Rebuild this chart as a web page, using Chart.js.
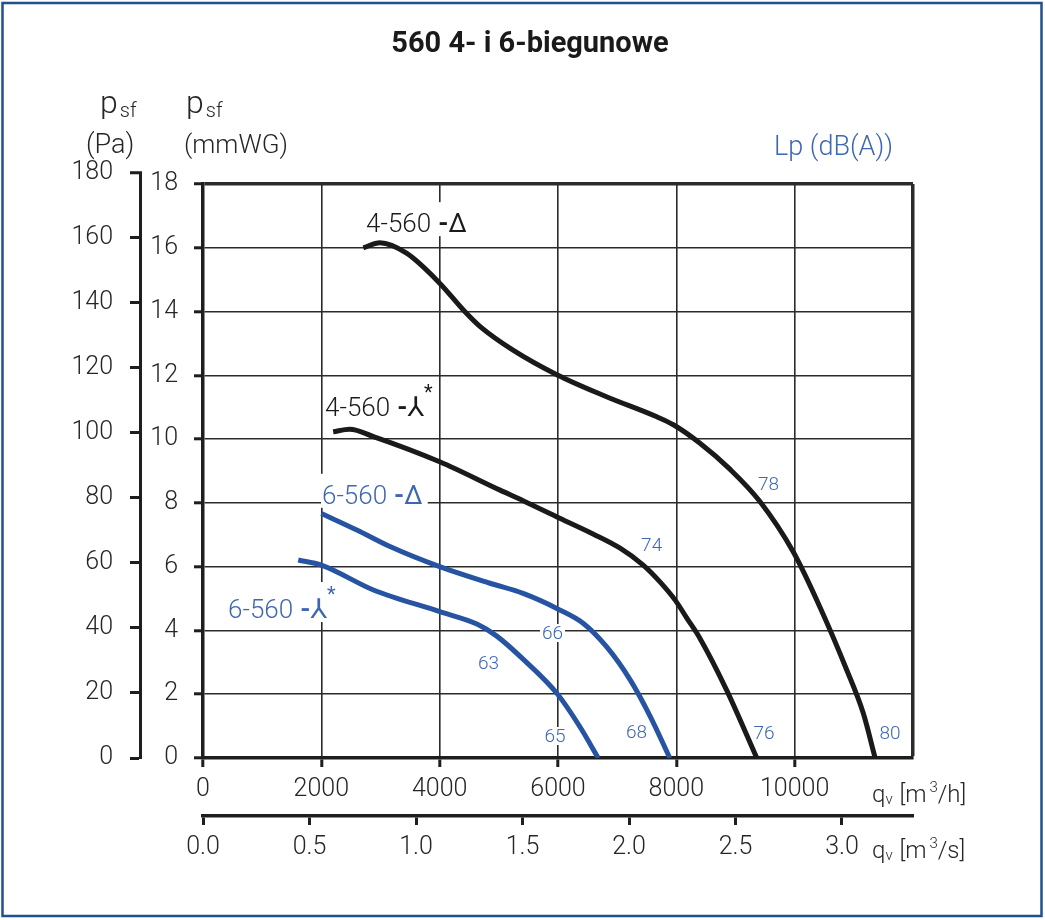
<!DOCTYPE html>
<html>
<head>
<meta charset="utf-8">
<script src="https://cdn.jsdelivr.net/npm/chart.js@4.4.1/dist/chart.umd.min.js"></script>
<style>
  html, body { margin: 0; padding: 0; background: #ffffff; }
  #wrap { width: 1045px; height: 920px; position: relative; }
  canvas { display: block; }
</style>
</head>
<body>
<div id="wrap"><canvas id="chart" width="1045" height="920"></canvas></div>
<script>
// ---------------- DATA ----------------
const chartTitle = '560 4- i 6-biegunowe';
const seriesNames = ['4-560 -Δ', '4-560 -⅄*', '6-560 -Δ', '6-560 -⅄*'];

// flow q [m3/h] and static pressure p [mmWG]
const q4Delta = [2710, 2990, 3440, 4000, 4400, 4690, 5240, 5980, 6820, 7670, 7950, 8400, 8910, 9410, 9980, 10430, 10880, 11160, 11360];
const p4Delta = [16.00, 16.16, 15.83, 14.89, 14.05, 13.52, 12.79, 12.02, 11.33, 10.70, 10.45, 9.87, 9.05, 8.05, 6.45, 4.72, 2.76, 1.40, 0];

const q4Star = [2200, 2480, 2880, 4000, 5020, 5410, 6030, 6600, 7050, 7440, 7720, 7980, 8180, 8400, 8850, 9360];
const p4Star = [10.23, 10.31, 10.08, 9.29, 8.40, 8.07, 7.52, 7.02, 6.58, 6.05, 5.53, 4.95, 4.38, 3.75, 2.13, 0];

const q6Delta = [2000, 2600, 3160, 4000, 4850, 5410, 5980, 6430, 6820, 7220, 7560, 7890];
const p6Delta = [7.67, 7.15, 6.63, 6.00, 5.48, 5.16, 4.69, 4.22, 3.49, 2.45, 1.30, 0];

const q6Star = [1610, 2000, 2880, 4000, 4630, 4960, 5410, 5980, 6370, 6680];
const p6Star = [6.21, 6.05, 5.27, 4.59, 4.20, 3.83, 3.10, 2.03, 0.98, 0];

// sound pressure level labels Lp dB(A) and where they sit (q, p)
const dbValues = ['78', '74', '66', '63', '65', '68', '76', '80'];
const dbQ = [9557, 7583, 5907, 4825, 5949, 7327, 9481, 11611];
const dbP = [8.58, 6.66, 3.92, 2.98, 0.69, 0.82, 0.77, 0.77];

// axes
const qMax = 12000;            // m3/h
const qStep = 2000;
const pMax = 18;               // mmWG
const pStep = 2;
const paStep = 20;             // Pa
const paTop = 180;
const PA_PER_MMWG = 9.80665;
const secondsPerHour = 3600;
const qsStep = 0.5;            // m3/s

// ---------------- STYLE ----------------
const FONT = 'Roboto, "DejaVu Sans", sans-serif';
const BLACK = '#1a1a1a';
const BLUE = '#2654a2';
const BLUE_TXT = '#3d67b2';
const GRID = '#2b2b2b';
const AXIS = '#1e1e1e';
const TXT = '#262626';
const FRAME = '#1f4f8d';
const TICK_FONT = { family: FONT, size: 25, weight: '300' };

// series name label anchors (left edge, baseline) in data coords
const nameAnchors = [
  { q: 2755, p: 16.49, color: BLACK, star: false },
  { q: 2062, p: 10.72, color: BLACK, star: true },
  { q: 2011, p: 7.97, color: BLUE_TXT, star: false },
  { q: 423,  p: 4.39, color: BLUE_TXT, star: true }
];

function pts(qs, ps) { return qs.map((q, i) => ({ x: q, y: ps[i] })); }

function alignPx(px, w) { const h = w / 2; return Math.round(px - h) + h; }

function drawParts(ctx, x, y, parts, color) {
  ctx.fillStyle = color;
  ctx.textAlign = 'left';
  ctx.textBaseline = 'alphabetic';
  let cx = x;
  for (const pt of parts) {
    ctx.font = (pt.weight || '300') + ' ' + pt.size + 'px ' + (pt.family || FONT);
    cx += pt.dx || 0;
    ctx.fillText(pt.t, cx, y + (pt.dy || 0));
    cx += ctx.measureText(pt.t).width;
  }
  return cx;
}

function measureParts(ctx, parts) {
  let w = 0;
  for (const pt of parts) {
    ctx.font = (pt.weight || '300') + ' ' + pt.size + 'px ' + (pt.family || FONT);
    w += (pt.dx || 0) + ctx.measureText(pt.t).width;
  }
  return w;
}

function nameParts(name) {
  const m = name.match(/^(\S+) -(.)(\*?)$/);
  const isDelta = m[2] === 'Δ';
  const parts = [
    { t: m[1], size: 26, weight: '300' },
    { t: '-', size: 26, weight: '700', dx: 7 },
    { t: m[2], size: isDelta ? 26 : 27, weight: '400', family: isDelta ? FONT : '"DejaVu Sans", sans-serif' }
  ];
  if (m[3]) parts.push({ t: '*', size: 20, weight: '400', dy: -17, dx: 0 });
  return parts;
}

// plugin: labels with white backing, under the curves
const labelPlugin = {
  id: 'curveLabels',
  beforeDatasetsDraw(chart) {
    const ctx = chart.ctx, xs = chart.scales.x, ys = chart.scales.y;
    ctx.save();
    seriesNames.forEach((name, i) => {
      const a = nameAnchors[i];
      const x = xs.getPixelForValue(a.q), y = ys.getPixelForValue(a.p);
      const parts = nameParts(name);
      const w = measureParts(ctx, parts);
      ctx.fillStyle = '#ffffff';
      const top = a.star ? y - 36 : y - 30;
      ctx.fillRect(x - 1, top, w + 6, y + 4 - top);
      drawParts(ctx, x, y, parts, a.color);
    });
    ctx.font = '300 19px ' + FONT;
    dbValues.forEach((t, i) => {
      const x = xs.getPixelForValue(dbQ[i]), y = ys.getPixelForValue(dbP[i]);
      const w = ctx.measureText(t).width;
      ctx.fillStyle = '#ffffff';
      ctx.fillRect(x - w / 2 - 2, y - 9, w + 4, 18);
      ctx.fillStyle = BLUE_TXT;
      ctx.textAlign = 'center';
      ctx.textBaseline = 'middle';
      ctx.fillText(t, x, y + 1);
    });
    ctx.restore();
  }
};

// plugin: frame, title, axis titles, Pa axis extension
const decorPlugin = {
  id: 'decor',
  afterDraw(chart) {
    const ctx = chart.ctx, ca = chart.chartArea;
    ctx.save();
    // frame
    ctx.strokeStyle = FRAME;
    ctx.lineWidth = 2.5;
    ctx.strokeRect(2.5, 3, 1039, 913);
    // title
    ctx.fillStyle = '#1a1a1a';
    ctx.font = 'bold 29px ' + FONT;
    ctx.textAlign = 'center';
    ctx.textBaseline = 'middle';
    ctx.fillText(chartTitle, 530, 45);
    // Pa axis extension up to 180
    const pa = chart.scales.yPa;
    const yTop = pa.getPixelForValue(paTop);
    const bx = alignPx(pa.right, 3);
    ctx.strokeStyle = AXIS;
    ctx.lineWidth = 3;
    ctx.beginPath();
    ctx.moveTo(bx, ca.top + 2);
    ctx.lineTo(bx, yTop - 1.5);
    ctx.moveTo(pa.right - 10, yTop);
    ctx.lineTo(bx + 1.5, yTop);
    ctx.stroke();
    ctx.fillStyle = TXT;
    ctx.font = '300 25px ' + FONT;
    ctx.textAlign = 'right';
    ctx.textBaseline = 'middle';
    ctx.fillText(String(paTop), pa.right - 10 - 17, yTop);
    // axis titles
    drawParts(ctx, 100, 113, [{ t: 'p', size: 32 }, { t: 'sf', size: 20, dx: 2, dy: 4 }], TXT);
    drawParts(ctx, 186, 113, [{ t: 'p', size: 32 }, { t: 'sf', size: 20, dx: 2, dy: 4 }], TXT);
    drawParts(ctx, 86, 153, [{ t: '(Pa)', size: 27 }], TXT);
    drawParts(ctx, 184, 153, [{ t: '(mmWG)', size: 26 }], TXT);
    drawParts(ctx, 774, 155, [{ t: 'Lp (dB(A))', size: 27 }], BLUE_TXT);
    drawParts(ctx, 872, 802, [
      { t: 'q', size: 24 }, { t: 'v', size: 15, dy: 2 }, { t: ' [m', size: 24, dx: 1 },
      { t: '3', size: 15, dy: -10, dx: 3 }, { t: '/h]', size: 24 }], TXT);
    drawParts(ctx, 872, 858, [
      { t: 'q', size: 24 }, { t: 'v', size: 15, dy: 2 }, { t: ' [m', size: 24, dx: 1 },
      { t: '3', size: 15, dy: -10, dx: 3 }, { t: '/s]', size: 24 }], TXT);
    ctx.restore();
  }
};

const lineDefaults = { borderWidth: 5, pointRadius: 0, fill: false, cubicInterpolationMode: 'monotone', borderCapStyle: 'butt', borderJoinStyle: 'round' };

new Chart(document.getElementById('chart'), {
  type: 'line',
  data: {
    datasets: [
      Object.assign({ label: seriesNames[0], data: pts(q4Delta, p4Delta), borderColor: BLACK }, lineDefaults),
      Object.assign({ label: seriesNames[1], data: pts(q4Star, p4Star), borderColor: BLACK }, lineDefaults),
      Object.assign({ label: seriesNames[2], data: pts(q6Delta, p6Delta), borderColor: BLUE }, lineDefaults),
      Object.assign({ label: seriesNames[3], data: pts(q6Star, p6Star), borderColor: BLUE }, lineDefaults)
    ]
  },
  options: {
    responsive: false,
    animation: false,
    devicePixelRatio: 1,
    layout: { padding: { left: 10, right: 132, top: 184, bottom: 44 } },
    plugins: { legend: { display: false }, tooltip: { enabled: false }, title: { display: false } },
    scales: {
      x: {
        type: 'linear', position: 'bottom', min: 0, max: qMax, weight: 0,
        ticks: { stepSize: qStep, autoSkip: false, maxRotation: 0, color: TXT, font: TICK_FONT, padding: 8,
                 callback: v => (v === qMax ? '' : String(v)) },
        grid: { color: GRID, lineWidth: c => (c.tick && c.tick.value === qMax ? 3.5 : 1.6),
                tickLength: 9, tickWidth: 3,
                tickColor: c => (c.tick && c.tick.value === qMax ? 'rgba(0,0,0,0)' : AXIS) },
        border: { display: true, color: AXIS, width: 3.5 },
        afterFit: s => { s.height = 58; }
      },
      x2: {
        type: 'linear', position: 'bottom', min: 0, max: qMax / secondsPerHour, weight: 1,
        ticks: { stepSize: qsStep, includeBounds: false, autoSkip: false, maxRotation: 0, color: TXT, font: TICK_FONT, padding: 8,
                 callback: v => Number(v).toFixed(1) },
        grid: { drawOnChartArea: false, tickLength: 9, tickWidth: 3, color: AXIS, tickColor: AXIS },
        border: { display: true, color: AXIS, width: 3.5 },
        afterFit: s => { s.height = 60; }
      },
      y: {
        type: 'linear', position: 'left', min: 0, max: pMax, weight: 0,
        ticks: { stepSize: pStep, autoSkip: false, color: TXT, font: TICK_FONT, padding: 16 },
        grid: { color: GRID, lineWidth: c => (c.tick && c.tick.value === pMax ? 3.5 : 1.6),
                tickLength: 9, tickWidth: 3, tickColor: AXIS },
        border: { display: true, color: AXIS, width: 3.5 },
        afterFit: s => { s.width = 63; }
      },
      yPa: {
        type: 'linear', position: 'left', min: 0, max: pMax * PA_PER_MMWG, weight: 1,
        ticks: { stepSize: paStep, includeBounds: false, autoSkip: false, color: TXT, font: TICK_FONT, padding: 17 },
        grid: { drawOnChartArea: false, tickLength: 10, tickWidth: 3, color: AXIS, tickColor: AXIS },
        border: { display: true, color: AXIS, width: 3 },
        afterFit: s => { s.width = 130; }
      }
    }
  },
  plugins: [labelPlugin, decorPlugin]
});
</script>
</body>
</html>
